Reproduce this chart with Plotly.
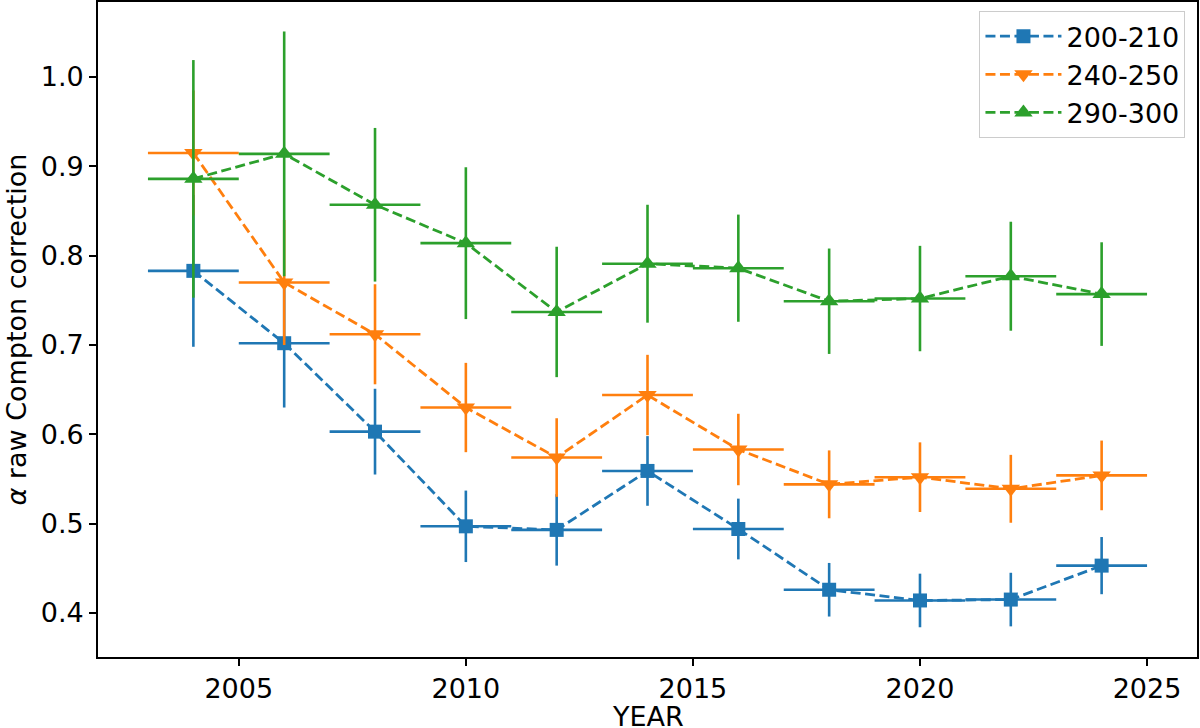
import plotly.graph_objects as go

years = [2004, 2006, 2008, 2010, 2012, 2014, 2016, 2018, 2020, 2022, 2024]
year_halfwidth = [1] * 11

s200_210 = [0.783, 0.702, 0.603, 0.497, 0.493, 0.559, 0.494, 0.426, 0.414, 0.415, 0.453]
s200_210_err = [0.085, 0.072, 0.048, 0.040, 0.040, 0.039, 0.034, 0.030, 0.030, 0.030, 0.032]

s240_250 = [0.915, 0.770, 0.712, 0.630, 0.574, 0.644, 0.583, 0.544, 0.552, 0.539, 0.554]
s240_250_err = [0.070, 0.070, 0.056, 0.050, 0.044, 0.045, 0.040, 0.038, 0.039, 0.038, 0.039]

s290_300 = [0.886, 0.914, 0.857, 0.814, 0.737, 0.791, 0.786, 0.749, 0.752, 0.777, 0.757]
s290_300_err = [0.133, 0.137, 0.086, 0.085, 0.073, 0.066, 0.060, 0.059, 0.059, 0.061, 0.058]

names = ["200-210", "240-250", "290-300"]
colors = ["#1f77b4", "#ff7f0e", "#2ca02c"]
symbols = ["square", "triangle-down", "triangle-up"]
msizes = [14, 16, 16]
series = [(s200_210, s200_210_err), (s240_250, s240_250_err), (s290_300, s290_300_err)]

y_tickvals = [0.4, 0.5, 0.6, 0.7, 0.8, 0.9, 1.0]
x_tickvals = [2005, 2010, 2015, 2020, 2025]

FONT = "DejaVu Sans"
FS = 27

fig = go.Figure()
for (vals, errs), name, col, sym, ms in zip(series, names, colors, symbols, msizes):
    fig.add_trace(go.Scatter(
        x=years, y=vals, name=name, mode="lines+markers",
        line=dict(color=col, width=2.8, dash="10px,4.5px"),
        marker=dict(symbol=sym, size=ms, color=col, line=dict(width=0)),
        error_y=dict(type="data", array=errs, visible=True, color=col, thickness=2.6, width=0),
        error_x=dict(type="data", array=year_halfwidth, visible=True, color=col, thickness=2.6, width=0),
    ))

fig.update_layout(
    width=1200, height=728,
    margin=dict(l=98, r=3, t=2, b=71, autoexpand=False),
    paper_bgcolor="white", plot_bgcolor="white",
    font=dict(family=FONT, size=FS, color="black"),
    showlegend=True,
    legend=dict(
        x=0.9895, y=0.986, xanchor="right", yanchor="top",
        bgcolor="rgba(255,255,255,0.8)", bordercolor="#cccccc", borderwidth=1,
        itemwidth=76,
        font=dict(family=FONT, size=FS, color="black"),
    ),
    xaxis=dict(
        range=[2001.9, 2026.1], tickvals=x_tickvals, ticktext=[str(v) for v in x_tickvals],
        showgrid=False, zeroline=False, showline=True, linecolor="black", linewidth=1.6,
        mirror=True, ticks="outside", ticklen=7, tickwidth=1.6, tickcolor="black",
        tickfont=dict(family=FONT, size=FS, color="black"),
    ),
    yaxis=dict(
        range=[0.3507, 1.084], tickvals=y_tickvals, ticktext=["%.1f" % v for v in y_tickvals],
        showgrid=False, zeroline=False, showline=True, linecolor="black", linewidth=1.6,
        mirror=True, ticks="outside", ticklen=7, tickwidth=1.6, tickcolor="black",
        tickfont=dict(family=FONT, size=FS, color="black"),
    ),
    annotations=[
        dict(text="YEAR", xref="paper", yref="paper", x=0.5, y=-0.0908,
             xanchor="center", yanchor="middle", showarrow=False,
             font=dict(family=FONT, size=FS, color="black")),
        dict(text="<i>α</i> raw Compton correction", xref="paper", yref="paper",
             x=(16 - 98) / 1100, y=0.5, textangle=-90,
             xanchor="center", yanchor="middle", showarrow=False,
             font=dict(family=FONT, size=FS, color="black")),
    ],
)

fig.write_html("out.html", config={"displayModeBar": False},
               post_script="document.body.style.margin='0';document.body.style.overflow='hidden';")
